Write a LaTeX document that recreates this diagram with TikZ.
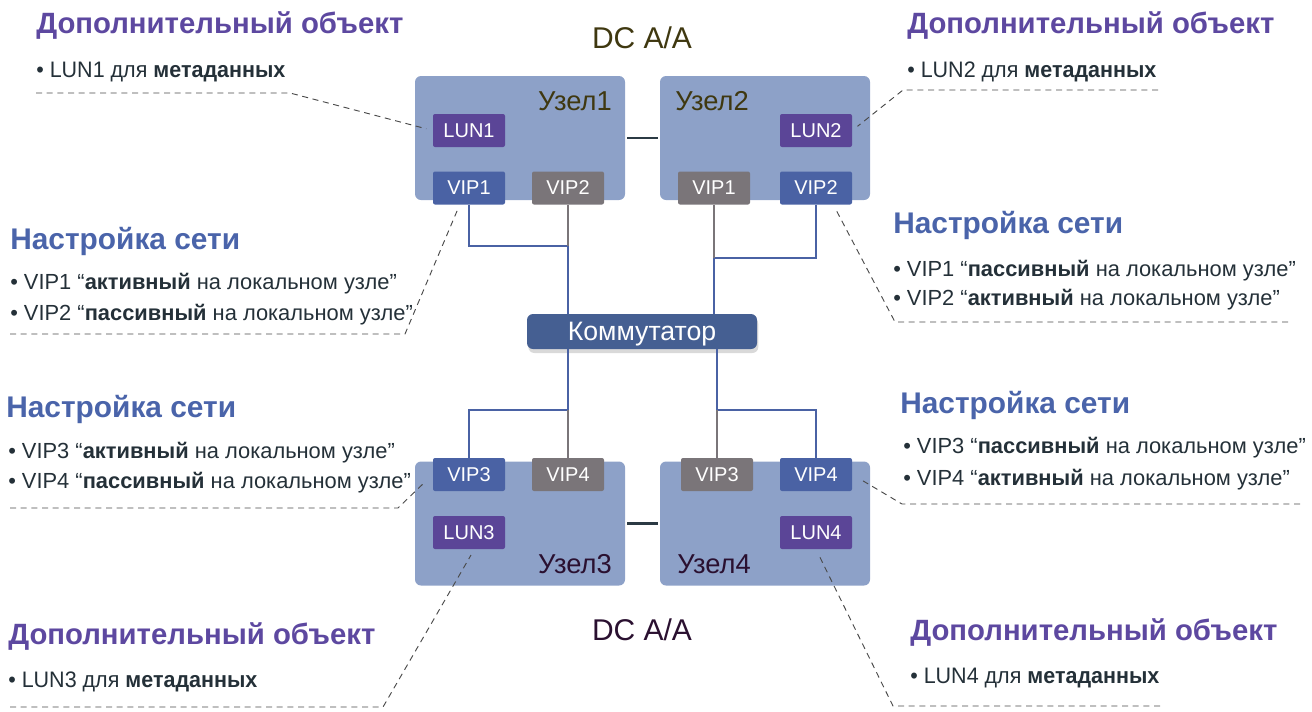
\documentclass[tikz,border=0pt]{standalone}
\usepackage{fontspec}
\setmainfont{Liberation Sans}
\newfontfamily\condfont[FakeStretch=0.96]{Liberation Sans}
\usetikzlibrary{shadows,calc}
\definecolor{nodebg}{HTML}{8DA1C8}
\definecolor{lunc}{HTML}{5B4597}
\definecolor{vipb}{HTML}{4A62A4}
\definecolor{vipg}{HTML}{7A7579}
\definecolor{swc}{HTML}{455F92}
\definecolor{hpurple}{HTML}{5D48A0}
\definecolor{hblue}{HTML}{4A64AA}
\definecolor{bodyc}{HTML}{243038}
\definecolor{olivec}{HTML}{3F3810}
\definecolor{plumc}{HTML}{2A1030}
\definecolor{dashc}{HTML}{4A4A4A}
\definecolor{linkc}{HTML}{2B3A44}
\tikzset{
  uzel/.style={fill=nodebg, rounded corners=4.5pt, minimum width=157.5pt, minimum height=93pt, inner sep=0pt},
  tag/.style={rounded corners=1.5pt, minimum width=54pt, minimum height=24.75pt, inner sep=0pt, text depth=0pt, text=white, font=\fontsize{15}{15}\selectfont},
  lun/.style={tag, fill=lunc},
  vipa/.style={tag, fill=vipb},
  vipp/.style={tag, fill=vipg},
  switchbox/.style={fill=swc, rounded corners=4.5pt, minimum width=172.5pt, minimum height=26.25pt, inner sep=0pt, text depth=0pt, text=white, font=\fontsize{20}{20}\selectfont, drop shadow={opacity=0.3, shadow xshift=1pt, shadow yshift=-3pt}},
  uzeltxt/.style={inner sep=0pt, font=\fontsize{20.5}{20.5}\selectfont},
  dctxt/.style={inner sep=0pt, font=\fontsize{22.5}{22.5}\selectfont},
  hpur/.style={inner sep=0pt, anchor=base west, text=hpurple, font=\bfseries\fontsize{22}{22}\selectfont},
  hblu/.style={inner sep=0pt, anchor=base west, text=hblue, font=\bfseries\fontsize{22.4}{22.4}\selectfont},
  bodyt/.style={inner sep=0pt, anchor=base west, text=bodyc, font=\fontsize{16.4}{16.4}\selectfont},
  bodyl/.style={inner sep=0pt, anchor=base west, text=bodyc, font=\condfont\fontsize{16.8}{16.8}\selectfont},
  wb/.style={draw=vipb, line width=1.3pt},
  wg/.style={draw=vipg, line width=1.3pt},
  lk/.style={draw=linkc, line width=1.8pt, shorten <=1.5pt, shorten >=1.5pt},
  dsh/.style={draw=dashc, line width=0.7pt, dash pattern=on 4.5pt off 3.5pt},
}
\begin{document}
\begin{tikzpicture}[x=0.75pt,y=-0.75pt]
\useasboundingbox (0,0) rectangle (1312,711);
% nodes
\node[uzel] (N1) at (520,138) {};
\node[uzel] (N2) at (765,138) {};
\node[uzel] (N3) at (520,523.5) {};
\node[uzel] (N4) at (765,523.5) {};
\node[uzeltxt, anchor=base east, text=olivec] (U1) at (612,110) {Узел1};
\node[uzeltxt, anchor=base west, text=olivec] (U2) at (675,110) {Узел2};
\node[uzeltxt, anchor=base east, text=plumc] (U3) at (612,573) {Узел3};
\node[uzeltxt, anchor=base west, text=plumc] (U4) at (677,573) {Узел4};
\node[lun] (L1) at (469,130.5) {LUN1};
\node[vipa] (V1a) at (469,188) {VIP1};
\node[vipp] (V2a) at (568,188) {VIP2};
\node[vipp] (V1b) at (714,188) {VIP1};
\node[vipa] (V2b) at (816,188) {VIP2};
\node[lun] (L2) at (816,130.5) {LUN2};
\node[vipa] (V3a) at (469,474.5) {VIP3};
\node[vipp] (V4a) at (568,474.5) {VIP4};
\node[lun] (L3) at (469,532.5) {LUN3};
\node[vipp] (V3b) at (717,474.5) {VIP3};
\node[vipa] (V4b) at (816,474.5) {VIP4};
\node[lun] (L4) at (816,532.5) {LUN4};
\node[switchbox] (SW) at (642,331.5) {Коммутатор};
\node[dctxt, text=olivec] (DC1) at (642,38) {DC A/A};
\node[dctxt, text=plumc] (DC2) at (642,630) {DC A/A};
% wires
\coordinate (j1) at (568,246);
\coordinate (j2) at (714,258);
\coordinate (j3) at (568,410);
\coordinate (j4) at (717,410);
\draw[wb] (V1a.south) |- (j1) -- (j1 |- SW.north);
\draw[wg] (V2a.south) -- (j1);
\draw[wb] (V2b.south) |- (j2) -- (j2 |- SW.north);
\draw[wg] (V1b.south) -- (j2);
\draw[wb] (j3 |- SW.south) -- (j3) -| (V3a.north);
\draw[wg] (j3) -- (V4a.north);
\draw[wb] (j4 |- SW.south) -- (j4) -| (V4b.north);
\draw[wg] (j4) -- (V3b.north);
\draw[lk] (N1.east) -- (N2.west);
\draw[lk] (N3.east) -- (N4.west);
% texts
\node[hpur] (T1h) at (36,33) {Дополнительный объект};
\node[bodyl] (T1b) at (36,77) {• LUN1 для \textbf{метаданных}};
\node[hpur] (T2h) at (907,33) {Дополнительный объект};
\node[bodyl] (T2b) at (907,77) {• LUN2 для \textbf{метаданных}};
\node[hblu] (T3h) at (10,249) {Настройка сети};
\node[bodyt] (T3a) at (10,289) {• VIP1 “\textbf{активный} на локальном узле”};
\node[bodyt] (T3b) at (10,320) {• VIP2 “\textbf{пассивный} на локальном узле”};
\node[hblu] (T4h) at (893,233) {Настройка сети};
\node[bodyt] (T4a) at (893,276) {• VIP1 “\textbf{пассивный} на локальном узле”};
\node[bodyt] (T4b) at (893,305) {• VIP2 “\textbf{активный} на локальном узле”};
\node[hblu] (T5h) at (6,417) {Настройка сети};
\node[bodyt] (T5a) at (8,458) {• VIP3 “\textbf{активный} на локальном узле”};
\node[bodyt] (T5b) at (8,488) {• VIP4 “\textbf{пассивный} на локальном узле”};
\node[hblu] (T6h) at (900,413) {Настройка сети};
\node[bodyt] (T6a) at (903,453) {• VIP3 “\textbf{пассивный} на локальном узле”};
\node[bodyt] (T6b) at (903,485) {• VIP4 “\textbf{активный} на локальном узле”};
\node[hpur] (T7h) at (8,644) {Дополнительный объект};
\node[bodyl] (T7b) at (8,687) {• LUN3 для \textbf{метаданных}};
\node[hpur] (T8h) at (910,640) {Дополнительный объект};
\node[bodyl] (T8b) at (910,683) {• LUN4 для \textbf{метаданных}};
% dashed leaders
\coordinate (a1) at (36,93);    \coordinate (a2) at (290,93);
\coordinate (b1) at (1158,90);  \coordinate (b2) at (903,90);
\coordinate (c1) at (10,334);   \coordinate (c2) at (405,334);
\coordinate (d1) at (1288,322); \coordinate (d2) at (895,322);
\coordinate (e1) at (10,508);   \coordinate (e2) at (398,508);
\coordinate (f1) at (1300,504); \coordinate (f2) at (902,504);
\coordinate (g1) at (10,707);   \coordinate (g2) at (383,707);
\coordinate (h1) at (1160,706); \coordinate (h2) at (893,706);
\draw[dsh, shorten >=5pt] (a1) -- (a2) -- (L1.west);
\draw[dsh, shorten >=5pt] (b1) -- (b2) -- (L2.east);
\draw[dsh, shorten >=4pt] (c1) -- (c2) -- ([xshift=-7pt]V1a.south);
\draw[dsh, shorten >=4pt] (d1) -- (d2) -- ([xshift=13pt]V2b.south);
\draw[dsh, shorten >=8pt] (e1) -- (e2) -- (V3a.west);
\draw[dsh, shorten >=8pt] (f1) -- (f2) -- (V4b.east);
\draw[dsh, shorten >=5pt] (g1) -- (g2) -- ([xshift=4pt]L3.south);
\draw[dsh, shorten >=4pt] (h1) -- (h2) -- (L4.south);
\end{tikzpicture}
\end{document}
